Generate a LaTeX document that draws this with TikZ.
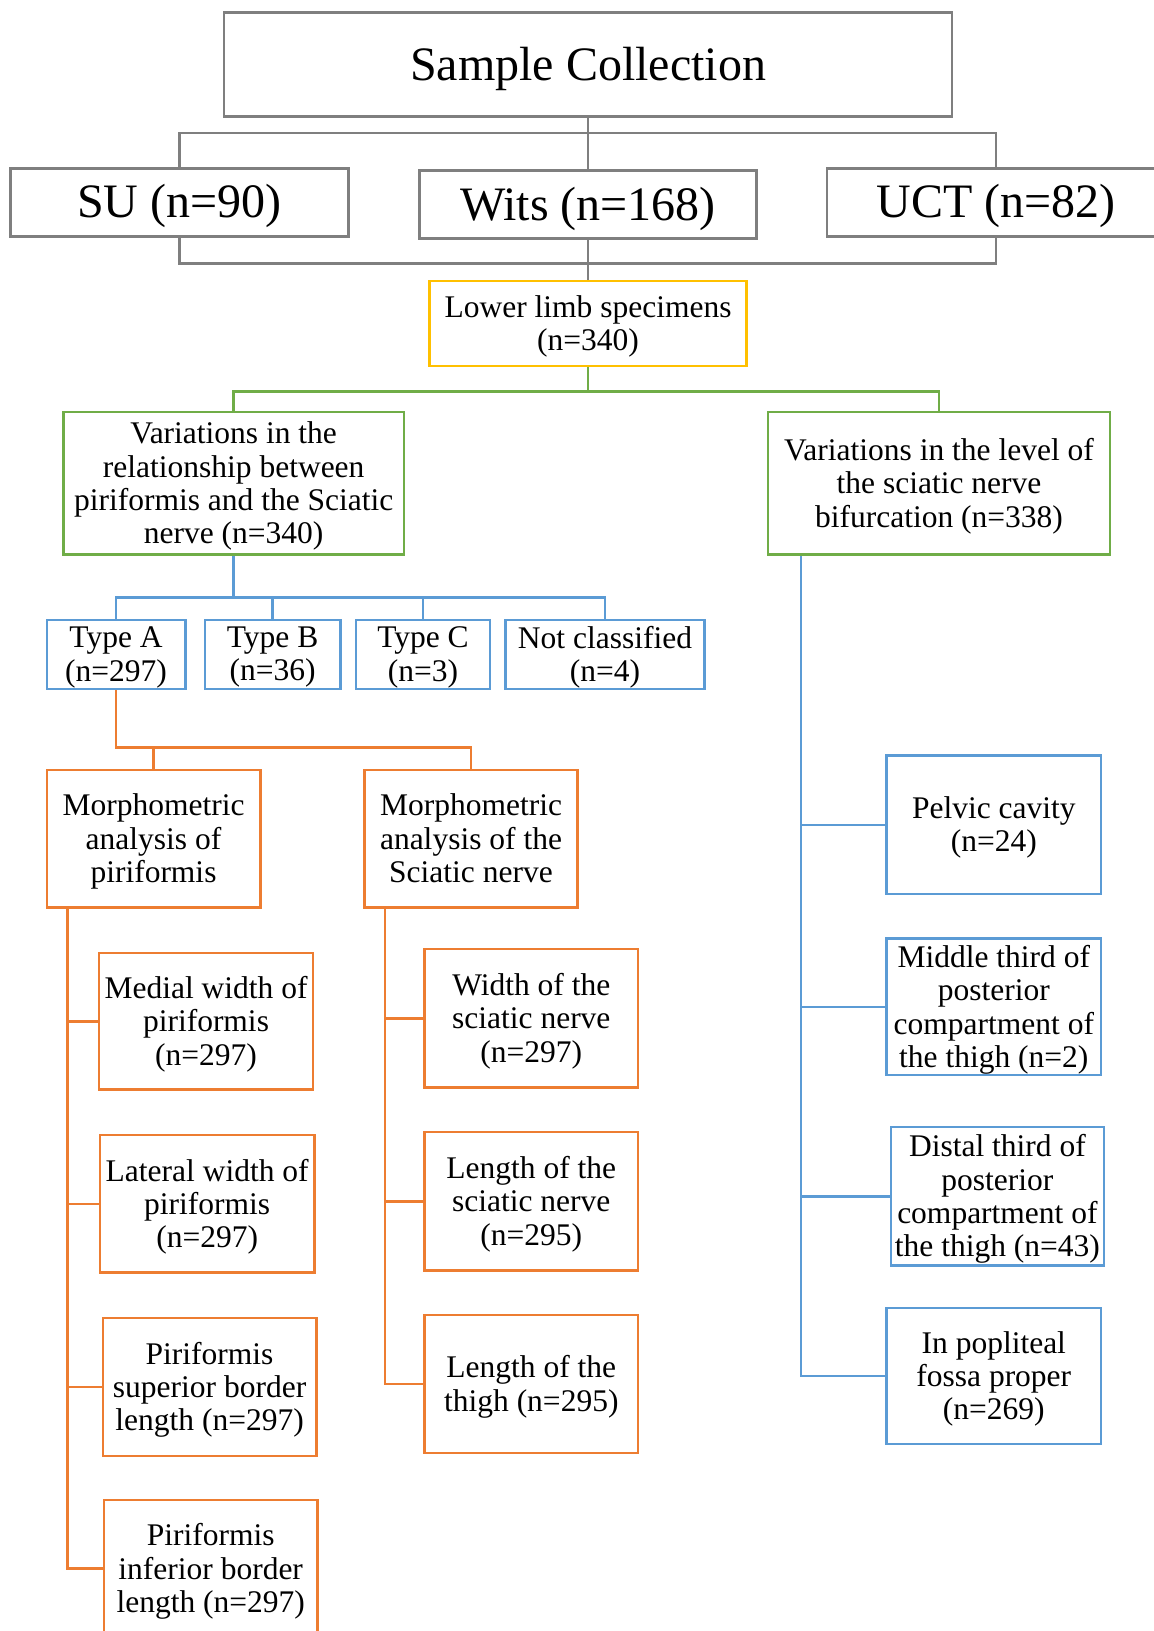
\documentclass[tikz,border=0pt]{standalone}
\usepackage{fontspec}
\setmainfont{Liberation Serif}
\definecolor{cgray}{HTML}{7F7F7F}
\definecolor{cyel}{HTML}{FFC000}
\definecolor{cgrn}{HTML}{70AD47}
\definecolor{cblu}{HTML}{5B9BD5}
\definecolor{corg}{HTML}{ED7D31}
\begin{document}
\begin{tikzpicture}[x=1pt,y=-1pt,
  box/.style={draw=#1, line width=2.6pt, inner sep=0pt, align=center,
    font=\fontsize{31.5pt}{33.3pt}\selectfont, fill=white, text depth=1pt},
  bigbox/.style={box=cgray, font=\fontsize{48pt}{52pt}\selectfont, text height=42pt, text depth=11pt},
  sz/.style 2 args={minimum width=#1pt, minimum height=#2pt},
  conn/.style={draw=#1, line width=2.6pt}
]
\clip (0,0) rectangle (1154,1631);
\fill[white] (0,0) rectangle (1154,1631);

% top level
\node[bigbox, sz={728}{104}] (sample) at (588,64.5) {Sample Collection};
\node[bigbox, sz={338}{67.6}] (su) at (179.5,202.4) {SU (n=90)};
\node[bigbox, sz={337.5}{67.6}] (wits) at (588,204.5) {Wits (n=168)};
\node[bigbox, sz={338}{67.6}] (uct) at (996,202.4) {UCT (n=82)};
\node[box=cyel, sz={317}{85}] (lower) at (588,323.5) {Lower limb specimens\\(n=340)};

% second level
\node[box=cgrn, sz={340.3}{142.6}] (varL) at (233.7,483.3)
  {Variations in the\\relationship between\\piriformis and the Sciatic\\nerve (n=340)};
\node[box=cgrn, sz={342}{142.6}] (varR) at (939,483.3)
  {Variations in the level of\\the sciatic nerve\\bifurcation (n=338)};

% types
\node[box=cblu, sz={138.4}{69}] (typeA) at (116,654.5) {Type A\\(n=297)};
\node[box=cblu, sz={135.3}{69}] (typeB) at (272.6,654.5) {Type B\\(n=36)};
\node[box=cblu, sz={134.1}{69}] (typeC) at (423,654.5) {Type C\\(n=3)};
\node[box=cblu, sz={198.8}{69}] (notc) at (605,654.5) {Not classified\\(n=4)};

% morphometric
\node[box=corg, sz={213.4}{137.4}] (mpir) at (153.5,838.7) {Morphometric\\analysis of\\piriformis};
\node[box=corg, sz={213.3}{137.4}] (msci) at (471,838.7) {Morphometric\\analysis of the\\Sciatic nerve};

\node[box=corg, sz={214.3}{136.5}] (medial) at (206,1021.2) {Medial width of\\piriformis\\(n=297)};
\node[box=corg, sz={214.3}{137.6}] (lateral) at (207.2,1203.8) {Lateral width of\\piriformis\\(n=297)};
\node[box=corg, sz={213.3}{137.8}] (superior) at (209.6,1387) {Piriformis\\superior border\\length (n=297)};
\node[box=corg, sz={213.4}{137}] (inferior) at (210.7,1568.5) {Piriformis\\inferior border\\length (n=297)};

\node[box=corg, sz={213.4}{138.4}] (wsci) at (531.3,1018.2) {Width of the\\sciatic nerve\\(n=297)};
\node[box=corg, sz={213.4}{138.6}] (lsci) at (531.3,1201.3) {Length of the\\sciatic nerve\\(n=295)};
\node[box=corg, sz={213.4}{137.7}] (lthigh) at (531.3,1384) {Length of the\\thigh (n=295)};

% bifurcation levels
\node[box=cblu, sz={214.4}{138.5}] (pelvic) at (993.8,824.8) {Pelvic cavity\\(n=24)};
\node[box=cblu, sz={214.4}{136.4}] (middle) at (993.8,1006.8) {Middle third of\\posterior\\compartment of\\the thigh (n=2)};
\node[box=cblu, sz={213.2}{138.4}] (distal) at (997.4,1196.2) {Distal third of\\posterior\\compartment of\\the thigh (n=43)};
\node[box=cblu, sz={214.4}{136}] (popl) at (993.8,1376) {In popliteal\\fossa proper\\(n=269)};

% bus coordinates
\coordinate (gtop) at (0,133);
\coordinate (gbot) at (0,263.3);
\coordinate (grb) at (0,391.3);
\coordinate (blb) at (0,597.3);
\coordinate (orb) at (0,747.2);
\coordinate (lt) at ([xshift=22pt]mpir.south west);
\coordinate (rt) at ([xshift=21.8pt]msci.south west);
\coordinate (bt) at ([xshift=34.3pt]varR.south west);

% gray connectors
\draw[conn=cgray] (sample.south) -- (wits.north);
\draw[conn=cgray] (su.north) -- (su.north |- gtop) -- (uct.north |- gtop) -- (uct.north);
\draw[conn=cgray] (su.south) -- (su.south |- gbot) -- (uct.south |- gbot) -- (uct.south);
\draw[conn=cgray] (wits.south) -- (lower.north);

% green connectors
\draw[conn=cgrn] (lower.south) -- (lower.south |- grb);
\draw[conn=cgrn] (varL.north) -- (varL.north |- grb) -- (varR.north |- grb) -- (varR.north);

% blue connectors (types)
\draw[conn=cblu] (varL.south) -- (varL.south |- blb);
\draw[conn=cblu] (typeA.north) -- (typeA.north |- blb) -- (notc.north |- blb) -- (notc.north);
\draw[conn=cblu] (typeB.north) -- (typeB.north |- blb);
\draw[conn=cblu] (typeC.north) -- (typeC.north |- blb);

% orange connectors
\draw[conn=corg] (typeA.south) -- (typeA.south |- orb) -- (msci.north |- orb) -- (msci.north);
\draw[conn=corg] (mpir.north) -- (mpir.north |- orb);

\draw[conn=corg] (lt) |- (inferior.west);
\draw[conn=corg] (lt |- medial.west) -- (medial.west);
\draw[conn=corg] (lt |- lateral.west) -- (lateral.west);
\draw[conn=corg] (lt |- superior.west) -- (superior.west);

\draw[conn=corg] (rt) |- (lthigh.west);
\draw[conn=corg] (rt |- wsci.west) -- (wsci.west);
\draw[conn=corg] (rt |- lsci.west) -- (lsci.west);

% blue right trunk
\draw[conn=cblu] (bt) |- (popl.west);
\draw[conn=cblu] (bt |- pelvic.west) -- (pelvic.west);
\draw[conn=cblu] (bt |- middle.west) -- (middle.west);
\draw[conn=cblu] (bt |- distal.west) -- (distal.west);
\end{tikzpicture}
\end{document}
